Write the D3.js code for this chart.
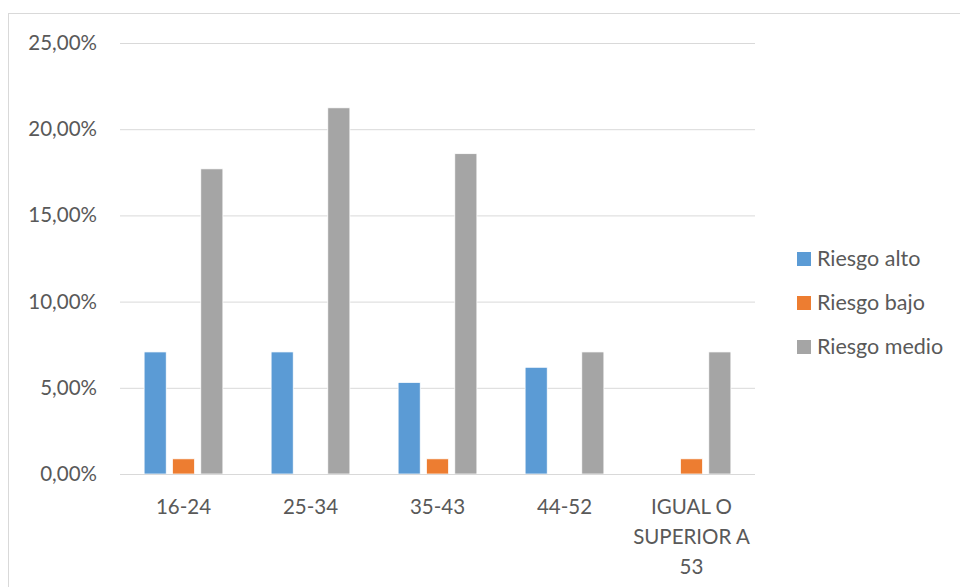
<!DOCTYPE html>
<html>
<head>
<meta charset="utf-8">
<script src="https://cdn.jsdelivr.net/npm/d3@7"></script>
<style>
  html, body { margin: 0; padding: 0; background: #fff; }
  svg { display: block; }
  text { font-family: Lato, "Open Sans", sans-serif; fill: #595959; }
</style>
</head>
<body>
<svg id="chart" width="960" height="587"></svg>
<script>
// Age groups and risk level shares (percent of respondents)
const categories = ["16-24", "25-34", "35-43", "44-52", "IGUAL O SUPERIOR A 53"];
const categoryLines = [["16-24"], ["25-34"], ["35-43"], ["44-52"], ["IGUAL O", "SUPERIOR A", "53"]];
const seriesNames = ["Riesgo alto", "Riesgo bajo", "Riesgo medio"];
const riesgoAlto  = [7.08, 7.08, 5.31, 6.19, 0];
const riesgoBajo  = [0.88, 0, 0.88, 0, 0.88];
const riesgoMedio = [17.70, 21.24, 18.58, 7.08, 7.08];
const yTicks = [0, 5, 10, 15, 20, 25];
const colors = ["#5B9BD5", "#ED7D31", "#A5A5A5"];

const seriesValues = [riesgoAlto, riesgoBajo, riesgoMedio];
const rows = categories.map((c, i) => ({
  cat: c,
  values: seriesNames.map((s, j) => ({ series: s, value: seriesValues[j][i] }))
}));

const svg = d3.select("#chart");

// chart frame
svg.append("rect")
  .attr("x", 8.5).attr("y", 13.5)
  .attr("width", 1000).attr("height", 1000)
  .attr("fill", "#fff").attr("stroke", "#d9d9d9").attr("stroke-width", 1);

const plot = { left: 120, right: 755, top: 43, bottom: 474 };

const y = d3.scaleLinear().domain([0, 25]).range([plot.bottom, plot.top]);
const x0 = d3.scaleBand().domain(categories).range([plot.left, plot.right]);
const groupW = 85;
const x1 = d3.scaleBand().domain(seriesNames)
  .range([x0.bandwidth() / 2 - groupW / 2, x0.bandwidth() / 2 + groupW / 2])
  .paddingInner(0.22).paddingOuter(0.11);
const color = d3.scaleOrdinal().domain(seriesNames).range(colors);

// gridlines and value axis labels
const yAxis = d3.axisLeft(y).tickValues(yTicks)
  .tickSize(-(plot.right - plot.left))
  .tickPadding(23)
  .tickFormat(d => d3.format(".2f")(d).replace(".", ",") + "%");

const gy = svg.append("g")
  .attr("transform", `translate(${plot.left},0)`)
  .call(yAxis);
gy.select(".domain").remove();
gy.selectAll(".tick line").attr("stroke", "#d9d9d9").attr("stroke-width", 1);
gy.selectAll(".tick text")
  .attr("font-size", 20.5)
  .attr("fill", "#595959")
  .style("font-family", "Lato, 'Open Sans', sans-serif");

// bars
const groups = svg.append("g").selectAll("g")
  .data(rows).join("g")
  .attr("transform", d => `translate(${x0(d.cat)},0)`);

groups.selectAll("rect")
  .data(d => d.values.filter(v => v.value > 0))
  .join("rect")
  .attr("x", d => x1(d.series))
  .attr("width", x1.bandwidth())
  .attr("y", d => y(d.value))
  .attr("height", d => y(0) - y(d.value))
  .attr("fill", d => color(d.series))
  .attr("stroke", "#fff")
  .attr("stroke-width", 0.75);

// baseline
svg.append("line")
  .attr("x1", plot.left).attr("x2", plot.right)
  .attr("y1", y(0) + 0.5).attr("y2", y(0) + 0.5)
  .attr("stroke", "#d9d9d9").attr("stroke-width", 1.2);

// category labels
const xl = svg.append("g");
categories.forEach((c, i) => {
  const cx = x0(c) + x0.bandwidth() / 2;
  const t = xl.append("text")
    .attr("x", cx)
    .attr("y", 514)
    .attr("text-anchor", "middle")
    .attr("font-size", 20.5);
  categoryLines[i].forEach((line, k) => {
    t.append("tspan")
      .attr("x", cx)
      .attr("dy", k === 0 ? 0 : 30)
      .text(line);
  });
});

// legend
const legend = svg.append("g").attr("transform", "translate(797,252)");
seriesNames.forEach((s, i) => {
  const g = legend.append("g").attr("transform", `translate(0,${i * 44})`);
  g.append("rect").attr("width", 14).attr("height", 14).attr("fill", colors[i]);
  g.append("text").attr("x", 20).attr("y", 14).attr("font-size", 21.5).text(s);
});
</script>
</body>
</html>
